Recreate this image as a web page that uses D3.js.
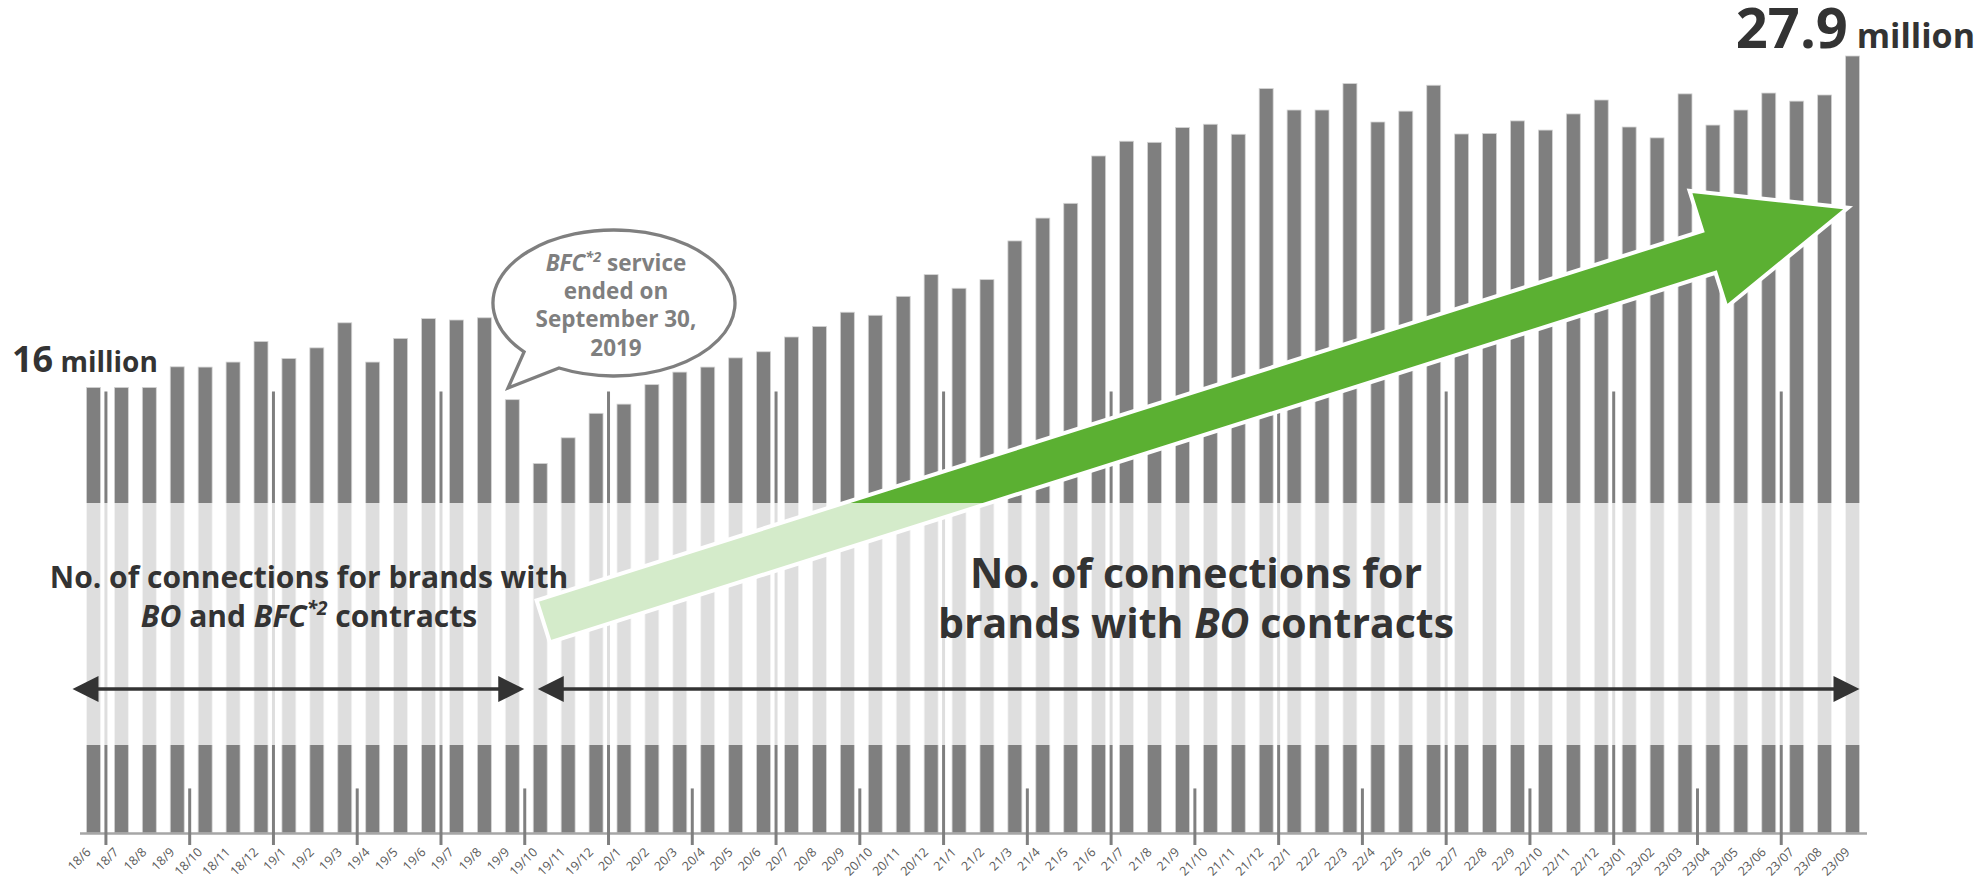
<!DOCTYPE html>
<html>
<head>
<meta charset="utf-8">
<script src="https://cdn.jsdelivr.net/npm/d3@7"></script>
<style>
  body { margin: 0; background: #fff; }
  svg { display: block; font-family: "Open Sans", "Noto Sans", sans-serif; }
</style>
</head>
<body>
<svg id="chart" width="1983" height="886"></svg>
<script>
(function() {
// months shown on the x axis (yy/m)
const months = [
  '18/6', '18/7', '18/8', '18/9', '18/10', '18/11', '18/12',
  '19/1', '19/2', '19/3', '19/4', '19/5', '19/6', '19/7', '19/8', '19/9', '19/10', '19/11', '19/12',
  '20/1', '20/2', '20/3', '20/4', '20/5', '20/6', '20/7', '20/8', '20/9', '20/10', '20/11', '20/12',
  '21/1', '21/2', '21/3', '21/4', '21/5', '21/6', '21/7', '21/8', '21/9', '21/10', '21/11', '21/12',
  '22/1', '22/2', '22/3', '22/4', '22/5', '22/6', '22/7', '22/8', '22/9', '22/10', '22/11', '22/12',
  '23/01', '23/02', '23/03', '23/04', '23/05', '23/06', '23/07', '23/08', '23/09'
];

// connections, in millions
const connections = [
  16.0, 16.0, 16.0, 16.74, 16.73, 16.91, 17.65,
  17.04, 17.42, 18.32, 16.91, 17.76, 18.47, 18.42, 18.50, 15.56, 13.27, 14.19, 15.07,
  15.40, 16.10, 16.55, 16.73, 17.06, 17.28, 17.81, 18.19, 18.70, 18.59, 19.27, 20.05,
  19.56, 19.87, 21.26, 22.08, 22.61, 24.31, 24.84, 24.80, 25.33, 25.45, 25.09, 26.73,
  25.96, 25.96, 26.91, 25.53, 25.92, 26.85, 25.10, 25.12, 25.57, 25.24, 25.82, 26.32,
  25.35, 24.96, 26.54, 25.42, 25.96, 26.57, 26.28, 26.50, 27.90
];

const firstLabel = '16';
const lastLabel = '27.9';

const width = 1983;
const plot = { left: 79.5, right: 1866.5, top: 56, base: 833 };
const grey = '#7f7f7f';
const ink = '#333';

const svg = d3.select('#chart');

const x = d3.scaleBand()
    .domain(months)
    .range([plot.left, plot.right])
    .paddingInner(0.5)
    .paddingOuter(0.25);

const y = d3.scaleLinear()
    .domain([0, d3.max(connections)])
    .range([plot.base, plot.top]);

// left edge of a month's slot
const edge = m => x(m) - x.step() * 0.25 - 1.5;

// bars
svg.append('g')
    .selectAll('rect')
    .data(months)
    .join('rect')
    .attr('x', d => x(d))
    .attr('y', (d, i) => y(connections[i]))
    .attr('width', x.bandwidth())
    .attr('height', (d, i) => plot.base - y(connections[i]))
    .attr('fill', grey)
    .attr('stroke', '#d4d4d4')
    .attr('stroke-width', 0.8);

// x axis
const xAxis = d3.axisBottom(x).tickSize(0).tickSizeOuter(0);
const ax = svg.append('g')
    .attr('transform', `translate(0,${plot.base})`)
    .call(xAxis)
    .attr('font-family', '"Open Sans", sans-serif')
    .attr('font-size', 12.5);
ax.select('.domain')
    .attr('stroke', '#a6a6a6')
    .attr('stroke-width', 2.5);
ax.selectAll('text')
    .attr('y', 0)
    .attr('dy', 0)
    .attr('fill', '#595959')
    .attr('transform', 'translate(-2,20) rotate(-45)')
    .style('text-anchor', 'end');

// quarter marks (tall ones at January / July)
const quarterStarts = months.filter(m => +m.split('/')[1] % 3 === 1);
svg.append('g')
    .selectAll('line')
    .data(quarterStarts)
    .join('line')
    .attr('x1', edge)
    .attr('x2', edge)
    .attr('y1', plot.base + 12)
    .attr('y2', d => {
        const mo = +d.split('/')[1];
        return (mo === 1 || mo === 7) ? y(15.85) : y(1.6);
    })
    .attr('stroke', grey)
    .attr('stroke-width', 3);

// big green growth arrow
const tail = [x('19/10') + 10, y(7.6)];
const tip = [x('23/09') + 2.5, y(22.45)];
const len = Math.hypot(tip[0] - tail[0], tip[1] - tail[1]);
const ux = (tip[0] - tail[0]) / len, uy = (tip[1] - tail[1]) / len;
const pt = (a, b) => [tail[0] + a * ux - b * uy, tail[1] + a * uy + b * ux];
const head = len - 146;
const arrowPts = [pt(0, -22), pt(head, -22), pt(head, -64), pt(len, 0), pt(head, 58), pt(head, 22), pt(0, 22)];
svg.append('path')
    .attr('d', d3.line()(arrowPts) + 'Z')
    .attr('fill', '#5bb032')
    .attr('stroke', '#fff')
    .attr('stroke-width', 4);

// white wash band
svg.append('rect')
    .attr('x', 0)
    .attr('y', 503)
    .attr('width', width)
    .attr('height', 242)
    .attr('fill', '#fff')
    .attr('opacity', 0.74);

// left caption
const leftNote = svg.append('text')
    .attr('text-anchor', 'middle')
    .attr('font-size', 30)
    .attr('font-weight', 700)
    .attr('fill', ink);
leftNote.append('tspan').attr('x', 309).attr('y', 588).text('No. of connections for brands with');
const l2 = leftNote.append('tspan').attr('x', 309).attr('y', 627);
l2.append('tspan').attr('font-style', 'italic').text('BO');
l2.append('tspan').text(' and ');
l2.append('tspan').attr('font-style', 'italic').text('BFC');
l2.append('tspan').attr('font-style', 'italic').attr('font-size', 19).attr('dy', -12).text('*2');
l2.append('tspan').attr('dy', 12).text(' contracts');

// right caption
const rightNote = svg.append('text')
    .attr('text-anchor', 'middle')
    .attr('font-size', 41)
    .attr('font-weight', 700)
    .attr('fill', ink);
rightNote.append('tspan').attr('x', 1196).attr('y', 588).text('No. of connections for');
const r2 = rightNote.append('tspan').attr('x', 1196).attr('y', 638);
r2.append('tspan').text('brands with ');
r2.append('tspan').attr('font-style', 'italic').text('BO');
r2.append('tspan').text(' contracts');

// double-headed span arrows
const splitX = x('19/10') - x.step() * 0.25;
const spans = [
    [x.range()[0] - 7, splitX - 2],
    [splitX + 11.5, x('23/09') + x.bandwidth()]
];
const arrowY = 689;
const spanG = svg.append('g').attr('fill', ink).attr('stroke', ink);
spans.forEach(([x1, x2]) => {
    spanG.append('line')
        .attr('x1', x1 + 10).attr('x2', x2 - 10)
        .attr('y1', arrowY).attr('y2', arrowY)
        .attr('stroke-width', 3.3);
    spanG.append('path')
        .attr('stroke', 'none')
        .attr('d', `M${x1},${arrowY}L${x1 + 26},${arrowY - 13}L${x1 + 26},${arrowY + 13}Z`);
    spanG.append('path')
        .attr('stroke', 'none')
        .attr('d', `M${x2},${arrowY}L${x2 - 26},${arrowY - 13}L${x2 - 26},${arrowY + 13}Z`);
});

// speech bubble
const bub = { cx: 614, cy: 303, rx: 121, ry: 73 };
const onEllipse = deg => [bub.cx + bub.rx * Math.cos(deg * Math.PI / 180), bub.cy + bub.ry * Math.sin(deg * Math.PI / 180)];
const a = onEllipse(138), b = onEllipse(117);
svg.append('path')
    .attr('d', `M${a[0]},${a[1]}A${bub.rx},${bub.ry} 0 1 1 ${b[0]},${b[1]}L508,388Z`)
    .attr('fill', '#fff')
    .attr('stroke', grey)
    .attr('stroke-width', 3.3)
    .attr('stroke-linejoin', 'miter');

const bubText = svg.append('text')
    .attr('text-anchor', 'middle')
    .attr('font-size', 22.5)
    .attr('font-weight', 700)
    .attr('fill', grey);
const b1 = bubText.append('tspan').attr('x', 616).attr('y', 271);
b1.append('tspan').attr('font-style', 'italic').text('BFC');
b1.append('tspan').attr('font-style', 'italic').attr('font-size', 14.5).attr('dy', -9).text('*2');
b1.append('tspan').attr('dy', 9).text(' service');
bubText.append('tspan').attr('x', 616).attr('y', 299).text('ended on');
bubText.append('tspan').attr('x', 616).attr('y', 327).text('September 30,');
bubText.append('tspan').attr('x', 616).attr('y', 356).text('2019');

// start / end value labels
const startLbl = svg.append('text')
    .attr('x', 12)
    .attr('y', y(connections[0]) - 15)
    .attr('font-weight', 700)
    .attr('fill', ink);
startLbl.append('tspan').attr('font-size', 36).text(firstLabel);
startLbl.append('tspan').attr('font-size', 28).text(' million');

const endLbl = svg.append('text')
    .attr('x', 1975)
    .attr('y', y(connections[connections.length - 1]) - 8)
    .attr('text-anchor', 'end')
    .attr('font-weight', 700)
    .attr('fill', ink);
endLbl.append('tspan').attr('font-size', 56).text(lastLabel);
endLbl.append('tspan').attr('font-size', 34).text(' million');
})();
</script>
</body>
</html>
